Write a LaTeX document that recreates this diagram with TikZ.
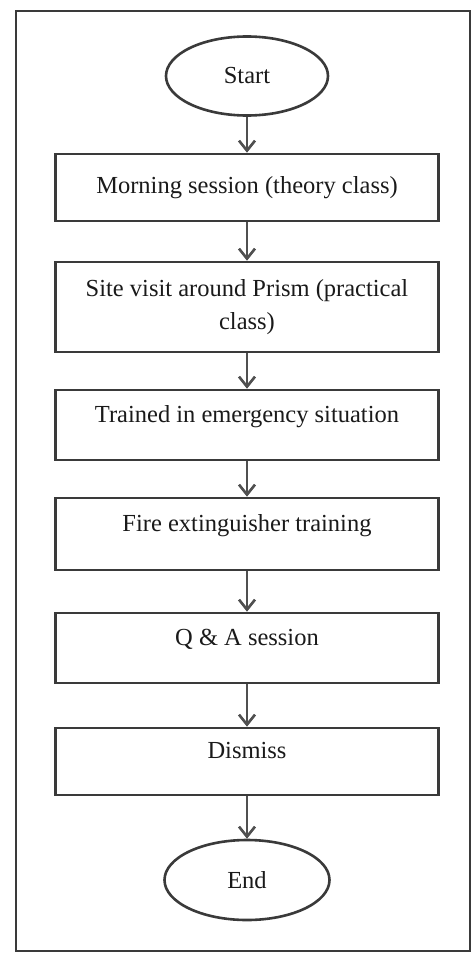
\documentclass[tikz,border=0pt]{standalone}
\usepackage{fontspec}
\setmainfont{Liberation Serif}
\usetikzlibrary{shapes.geometric,arrows.meta}

\definecolor{framegray}{HTML}{3A3A3A}
\definecolor{arrowgray}{HTML}{505050}
\definecolor{inkblack}{HTML}{1A1A1A}

\tikzset{
  flowfont/.style={font=\fontsize{24.5}{33}\selectfont, text=inkblack},
  stepbox/.style={draw=framegray, line width=2.6pt, rectangle,
    minimum width=383pt, inner sep=0pt, align=center, flowfont},
  toptext/.style={text height=17pt, text depth=23pt},
  terminal/.style={draw=framegray, line width=2.6pt, ellipse,
    minimum width=162pt, minimum height=79pt, inner sep=0pt, flowfont},
  flowarrow/.style={draw=arrowgray, line width=2.6pt,
    -{Straight Barb[length=10pt,width=16pt,line width=2.6pt]}},
  outerframe/.style={draw=framegray, line width=2.8pt}
}

\begin{document}
\begin{tikzpicture}[x=1pt,y=-1pt]
  \useasboundingbox (0,0) rectangle (473,958);
  \fill[white] (0,0) rectangle (473,958);

  % surrounding frame
  \draw[outerframe] (16,11) rectangle (470,951);

  % flow steps
  \node[terminal] (start) at (247,76) {Start};
  \node[stepbox, minimum height=67pt] (morning) at (247,187.5)
    {Morning session (theory class)};
  \node[stepbox, minimum height=90pt] (site) at (247,307)
    {Site visit around Prism (practical\\class)};
  \node[stepbox, minimum height=70pt, toptext] (trained) at (247,425)
    {Trained in emergency situation};
  \node[stepbox, minimum height=72pt, toptext] (fire) at (247,534)
    {Fire extinguisher training};
  \node[stepbox, minimum height=70pt, toptext] (qa) at (247,648)
    {Q \& A session};
  \node[stepbox, minimum height=67pt, toptext] (dismiss) at (247,761.5)
    {Dismiss};
  \node[terminal, minimum width=165pt, minimum height=80pt] (end) at (247,880) {End};

  % connectors
  \draw[flowarrow] (start.south) -- (morning.north);
  \draw[flowarrow] (morning.south) -- (site.north);
  \draw[flowarrow] (site.south) -- (trained.north);
  \draw[flowarrow] (trained.south) -- (fire.north);
  \draw[flowarrow] (fire.south) -- (qa.north);
  \draw[flowarrow] (qa.south) -- (dismiss.north);
  \draw[flowarrow] (dismiss.south) -- (end.north);
\end{tikzpicture}
\end{document}
